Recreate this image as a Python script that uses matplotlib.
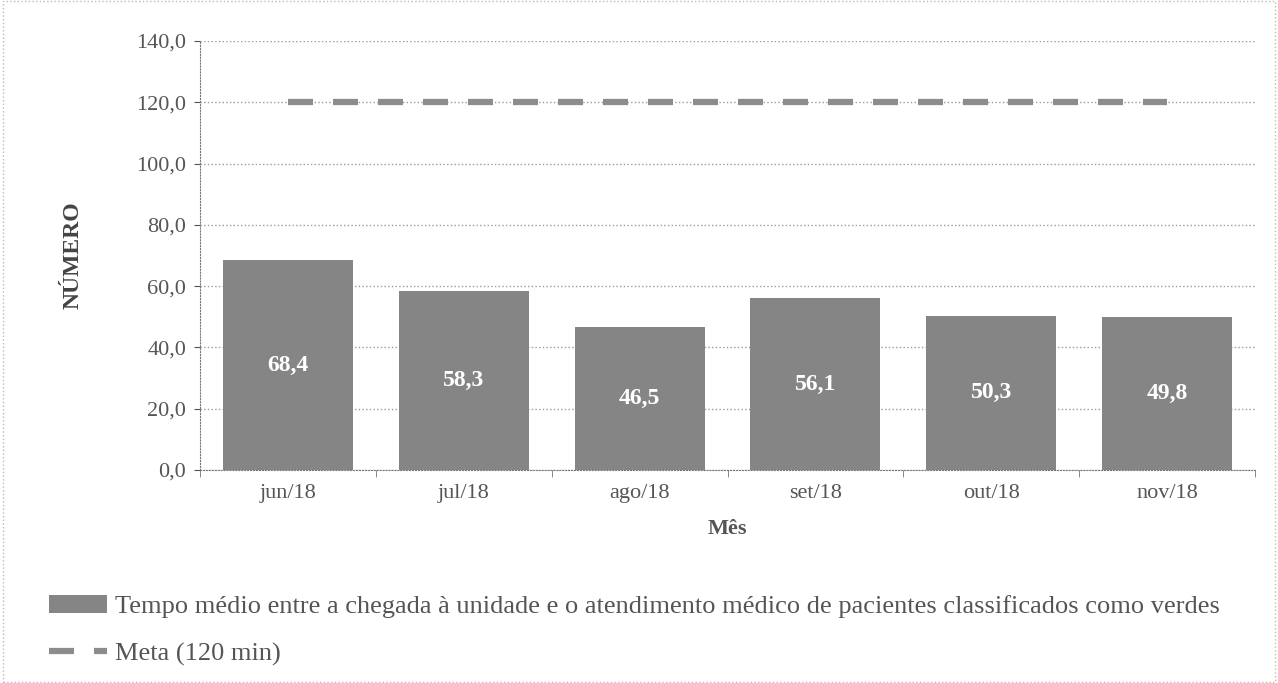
import numpy as np
import matplotlib.pyplot as plt
from matplotlib.ticker import FuncFormatter

meses = ["jun/18", "jul/18", "ago/18", "set/18", "out/18", "nov/18"]
tempo_medio = [68.4, 58.3, 46.5, 56.1, 50.3, 49.8]
meta = [120, 120, 120, 120, 120, 120]

plt.rcParams['font.family'] = ['Liberation Serif', 'DejaVu Serif']

fig = plt.figure(figsize=(12.78, 6.83), dpi=100)
ax = fig.add_axes([0.1565, 0.312, 0.8255, 0.628])

x = np.arange(len(meses))
bars = ax.bar(x, tempo_medio, width=0.74, color="#858585", zorder=2,
              label="Tempo médio entre a chegada à unidade e o atendimento médico de pacientes classificados como verdes")
ax.plot(x, meta, color="#8c8c8c", linewidth=4.5, dashes=(4, 3.2), zorder=3,
        label="Meta (120 min)")

for xi, v in zip(x, tempo_medio):
    ax.text(xi, v / 2, f"{v:.1f}".replace(".", ","), ha="center", va="center",
            color="white", fontsize=17, fontweight="bold", zorder=4)

ax.set_xlim(-0.5, len(meses) - 0.5)
ax.set_ylim(0, 140)
ax.set_yticks(np.arange(0, 141, 20))
ax.yaxis.set_major_formatter(FuncFormatter(lambda v, p: f"{v:.1f}".replace(".", ",")))
ax.set_xticks(x)
ax.set_xticklabels(meses)
ax.set_xticks(np.arange(-0.5, len(meses), 1), minor=True)
ax.tick_params(axis="x", which="major", length=0, labelsize=16, colors="#555555", pad=10)
ax.tick_params(axis="x", which="minor", length=5, color="#777777")
ax.tick_params(axis="y", length=4, labelsize=16, colors="#555555", pad=6)

ax.grid(axis="y", linestyle=":", color="#999999", linewidth=1, zorder=0)
for s in ["top", "right"]:
    ax.spines[s].set_visible(False)
ax.spines["left"].set_color("#777777")
ax.spines["bottom"].set_color("#777777")
ax.spines["left"].set_linestyle(":")
ax.spines["bottom"].set_linestyle(":")

ax.set_ylabel("NÚMERO", fontsize=17, fontweight="bold", color="#444444", labelpad=38)
ax.set_xlabel("Mês", fontsize=16, fontweight="bold", color="#555555", labelpad=12)

handles, labels = ax.get_legend_handles_labels()
fig.legend(handles[::-1], labels[::-1], loc="upper left",
           bbox_to_anchor=(0.03, 0.145), frameon=False,
           fontsize=19, labelcolor="#555555", handlelength=2.2,
           handletextpad=0.3, labelspacing=0.9, borderaxespad=0)

fig.patches.append(plt.Rectangle((0.002, 0.002), 0.996, 0.996, transform=fig.transFigure,
                                 fill=False, edgecolor="#bbbbbb", linewidth=1, linestyle=":"))

plt.savefig("out.png", dpi=100)
